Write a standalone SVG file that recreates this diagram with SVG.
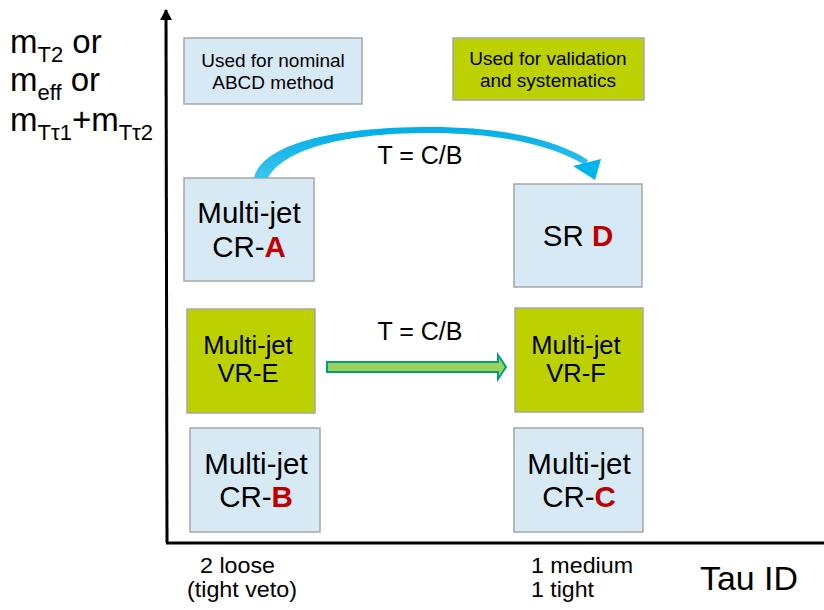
<svg xmlns="http://www.w3.org/2000/svg" width="824" height="610" viewBox="0 0 824 610">
<defs>
<style>
text{font-family:"Liberation Sans",Arial,sans-serif;fill:#000}
.blue{fill:#d7e9f5;stroke:#a6a6a6;stroke-width:1.5}
.lime{fill:#bdd000;stroke:#a6a6a6;stroke-width:1.5}
.big{font-size:29.5px;text-anchor:middle}
.mid{font-size:25.5px;text-anchor:middle}
.leg{font-size:19px;text-anchor:middle}
.red{fill:#c00000;font-weight:bold}
.lbl{font-size:22px}
.t{font-size:25px;text-anchor:middle}
</style>
<linearGradient id="gb" x1="0" y1="0" x2="0" y2="1">
<stop offset="0" stop-color="#00aee8"/>
<stop offset="1" stop-color="#3cc4ee"/>
</linearGradient>
<marker id="ah" markerWidth="12" markerHeight="12" refX="10" refY="6" orient="auto" markerUnits="userSpaceOnUse">
<path d="M0,0 L11,6 L0,12 Z" fill="#000"/>
</marker>
</defs>
<rect width="824" height="610" fill="#fff"/>

<g id="axes">
<path d="M167,543 L166,10" stroke="#000" stroke-width="3" fill="none" marker-end="url(#ah)"/>
<path d="M166,543 L824,543" stroke="#000" stroke-width="3" fill="none"/>
</g>

<g id="ylabel">
<text x="10" y="53" font-size="33">m<tspan font-size="22" dy="9">T2</tspan><tspan dy="-9"> or</tspan></text>
<text x="10" y="91" font-size="33">m<tspan font-size="22" dy="9">eff</tspan><tspan dy="-9"> or</tspan></text>
<text x="10" y="131" font-size="33">m<tspan font-size="22" dy="9">Tτ1</tspan><tspan dy="-9">+m</tspan><tspan font-size="22" dy="9">Tτ2</tspan></text>
</g>

<g id="legend-nominal">
<rect class="blue" x="184" y="38" width="178" height="66"/>
<text class="leg" x="273" y="67">Used for nominal</text>
<text class="leg" x="273" y="89">ABCD method</text>
</g>
<g id="legend-validation">
<rect class="lime" x="453" y="38" width="191" height="62"/>
<text class="leg" x="548" y="65">Used for validation</text>
<text class="leg" x="548" y="87">and systematics</text>
</g>

<g id="CR-A">
<rect class="blue" x="184" y="178" width="130" height="103"/>
<text class="big" x="249" y="223">Multi-jet</text>
<text class="big" x="249" y="257">CR-<tspan class="red">A</tspan></text>
</g>
<g id="SR-D">
<rect class="blue" x="514" y="184" width="128" height="103"/>
<text class="big" x="578" y="246">SR <tspan class="red">D</tspan></text>
</g>
<g id="VR-E">
<rect class="lime" x="187" y="309" width="128" height="104"/>
<text class="mid" x="248" y="354">Multi-jet</text>
<text class="mid" x="248" y="382">VR-E</text>
</g>
<g id="VR-F">
<rect class="lime" x="515" y="308" width="128" height="104"/>
<text class="mid" x="576" y="354">Multi-jet</text>
<text class="mid" x="576" y="382">VR-F</text>
</g>
<g id="CR-B">
<rect class="blue" x="190" y="428" width="130" height="104"/>
<text class="big" x="256" y="474">Multi-jet</text>
<text class="big" x="256" y="507">CR-<tspan class="red">B</tspan></text>
</g>
<g id="CR-C">
<rect class="blue" x="514" y="428" width="129" height="104"/>
<text class="big" x="579" y="474">Multi-jet</text>
<text class="big" x="579" y="507">CR-<tspan class="red">C</tspan></text>
</g>

<g id="connectors">
<path d="M254,178 C262,145 330,127 430,127 C510,127 560,142 588,160 L585,165 C555,147 505,133 430,133 C335,133 282,152 268,178 Z" fill="url(#gb)"/>
<path d="M573,166 L601,159 L595,180 Z" fill="#00b4ec"/>
<path d="M327,362 L498,362 L498,355 L506,367 L498,379 L498,372 L327,372 Z" fill="#9cd25c" stroke="#00a07a" stroke-width="2" stroke-linejoin="miter"/>
<text class="t" x="420" y="164">T = C/B</text>
<text class="t" x="420" y="340">T = C/B</text>
</g>

<g id="xlabels">
<text class="lbl" x="200" y="573" textLength="75" lengthAdjust="spacingAndGlyphs">2 loose</text>
<text class="lbl" x="187" y="597" textLength="110" lengthAdjust="spacingAndGlyphs">(tight veto)</text>
<text class="lbl" x="531" y="573" textLength="102" lengthAdjust="spacingAndGlyphs">1 medium</text>
<text class="lbl" x="531" y="597" textLength="63" lengthAdjust="spacingAndGlyphs">1 tight</text>
<text x="700" y="590" font-size="33" textLength="98" lengthAdjust="spacingAndGlyphs">Tau ID</text>
</g>
</svg>
